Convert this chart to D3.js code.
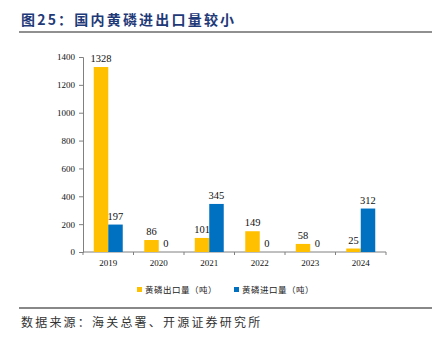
<!DOCTYPE html>
<html>
<head>
<meta charset="utf-8">
<script src="https://cdn.jsdelivr.net/npm/d3@7"></script>
<style>
  body { margin: 0; background: #fff; }
  svg { display: block; }
</style>
</head>
<body>
<div id="chart"></div>
<script>
// Data
const years = ["2019", "2020", "2021", "2022", "2023", "2024"];
const exportVals = [1328, 86, 101, 149, 58, 25];
const importVals = [197, 0, 345, 0, 0, 312];
const seriesNames = ["黄磷出口量（吨）", "黄磷进口量（吨）"];
const yTicks = [0, 200, 400, 600, 800, 1000, 1200, 1400];

const COLORS = ["#FFC000", "#0070C0"];
const SERIF = "'Liberation Serif', 'Times New Roman', serif";
const CJK = "'Noto Sans CJK SC', sans-serif";

const W = 438, H = 341;
const plot = { left: 83, right: 386, top: 57, bottom: 252 };

const svg = d3.select("#chart").append("svg")
  .attr("width", W).attr("height", H);

// Title and rules
svg.append("text")
  .attr("x", 21).attr("y", 25)
  .attr("fill", "#1F3A78")
  .attr("font-family", CJK)
  .attr("font-weight", "bold")
  .attr("font-size", 14)
  .attr("letter-spacing", 2.2)
  .text("图25：国内黄磷进出口量较小");

svg.append("line")
  .attr("x1", 19).attr("x2", 432).attr("y1", 32).attr("y2", 32)
  .attr("stroke", "#222").attr("stroke-width", 1.2);

svg.append("line")
  .attr("x1", 19).attr("x2", 432).attr("y1", 308).attr("y2", 308)
  .attr("stroke", "#888").attr("stroke-width", 2);

svg.append("text")
  .attr("x", 21).attr("y", 327)
  .attr("fill", "#333")
  .attr("font-family", CJK)
  .attr("font-size", 12)
  .attr("letter-spacing", 2.2)
  .text("数据来源：海关总署、开源证券研究所");

// Scales
const x0 = d3.scaleBand().domain(years).range([plot.left, plot.right]).padding(0);
const x1 = d3.scaleBand().domain([0, 1])
  .range([x0.bandwidth() * 0.213, x0.bandwidth() * 0.787]).padding(0);
const y = d3.scaleLinear().domain([0, 1400]).range([plot.bottom, plot.top]);

// Y axis
const yAxis = svg.append("g")
  .attr("transform", `translate(${plot.left},0)`)
  .call(d3.axisLeft(y).tickValues(yTicks).tickFormat(d3.format("d"))
    .tickSize(4).tickPadding(4));
yAxis.select(".domain").attr("stroke", "#808080");
yAxis.selectAll(".tick line").attr("stroke", "#808080");
yAxis.selectAll("text")
  .attr("font-family", SERIF).attr("font-size", 9).attr("fill", "#111");

// X axis: line plus small ticks at category boundaries
const xg = svg.append("g");
xg.append("line")
  .attr("x1", plot.left).attr("x2", plot.right)
  .attr("y1", plot.bottom).attr("y2", plot.bottom)
  .attr("stroke", "#808080");
const bounds = years.map(d => x0(d)).concat([x0(years[years.length - 1]) + x0.step()]);
xg.selectAll("line.tk").data(bounds).enter().append("line")
  .attr("class", "tk")
  .attr("x1", d => d).attr("x2", d => d)
  .attr("y1", plot.bottom).attr("y2", plot.bottom + 3)
  .attr("stroke", "#808080");
xg.selectAll("text").data(years).enter().append("text")
  .attr("x", d => x0(d) + x0.bandwidth() / 2)
  .attr("y", plot.bottom + 14)
  .attr("text-anchor", "middle")
  .attr("font-family", SERIF).attr("font-size", 9).attr("fill", "#111")
  .text(d => d);

// Bars
const series = [exportVals, importVals];
const groups = svg.selectAll("g.year").data(years).enter().append("g")
  .attr("transform", d => `translate(${x0(d)},0)`);

groups.each(function (yr, i) {
  const g = d3.select(this);
  series.forEach((vals, s) => {
    const v = vals[i];
    g.append("rect")
      .attr("x", x1(s))
      .attr("y", y(v))
      .attr("width", x1.bandwidth())
      .attr("height", plot.bottom - y(v))
      .attr("fill", COLORS[s]);
    g.append("text")
      .attr("x", x1(s) + x1.bandwidth() / 2)
      .attr("y", y(v) - 5)
      .attr("text-anchor", "middle")
      .attr("font-family", SERIF).attr("font-size", 10.5).attr("fill", "#111")
      .text(v);
  });
});

// Legend
const legendX = [137, 234];
seriesNames.forEach((name, s) => {
  svg.append("rect")
    .attr("x", legendX[s]).attr("y", 287)
    .attr("width", 5).attr("height", 5)
    .attr("fill", COLORS[s]);
  svg.append("text")
    .attr("x", legendX[s] + 8).attr("y", 293)
    .attr("font-family", CJK).attr("font-size", 8.5).attr("fill", "#222")
    .attr("letter-spacing", 0.5)
    .text(name);
});
</script>
</body>
</html>
